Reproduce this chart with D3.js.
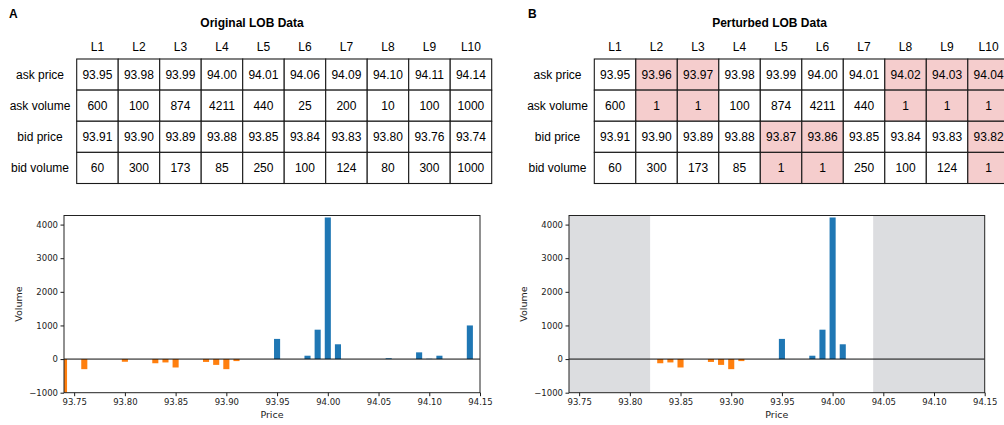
<!DOCTYPE html>
<html lang="en">
<head>
<meta charset="utf-8">
<title>LOB perturbation</title>
<script src="https://cdn.jsdelivr.net/npm/d3@7"></script>
<style>
  body { margin: 0; background: #fff; }
  .tbl text { font-family: "Liberation Sans", Arial, sans-serif; font-size: 12px; fill: #000; }
  .ax text { font-family: "DejaVu Sans", sans-serif; font-size: 8.5px; fill: #222; }
  .lab { font-family: "DejaVu Sans", sans-serif; font-size: 9.5px; fill: #222; }
</style>
</head>
<body>
<script>
// data
var levels = ["L1", "L2", "L3", "L4", "L5", "L6", "L7", "L8", "L9", "L10"];
var rowNames = ["ask price", "ask volume", "bid price", "bid volume"];

var askPriceA = [93.95, 93.98, 93.99, 94.00, 94.01, 94.06, 94.09, 94.10, 94.11, 94.14];
var askVolA   = [600, 100, 874, 4211, 440, 25, 200, 10, 100, 1000];
var bidPriceA = [93.91, 93.90, 93.89, 93.88, 93.85, 93.84, 93.83, 93.80, 93.76, 93.74];
var bidVolA   = [60, 300, 173, 85, 250, 100, 124, 80, 300, 1000];

var askPriceB = [93.95, 93.96, 93.97, 93.98, 93.99, 94.00, 94.01, 94.02, 94.03, 94.04];
var askVolB   = [600, 1, 1, 100, 874, 4211, 440, 1, 1, 1];
var bidPriceB = [93.91, 93.90, 93.89, 93.88, 93.87, 93.86, 93.85, 93.84, 93.83, 93.82];
var bidVolB   = [60, 300, 173, 85, 1, 1, 250, 100, 124, 1];

// perturbed levels (index into levels)
var askChanged = [1, 2, 7, 8, 9];
var bidChanged = [4, 5, 9];

var xTicks = [93.75, 93.80, 93.85, 93.90, 93.95, 94.00, 94.05, 94.10, 94.15];
var yTicks = [-1000, 0, 1000, 2000, 3000, 4000];
var xLim = [93.74, 94.15];
var yLim = [-1000, 4270];

var W = 1004, H = 425;
var svg = d3.select("body").append("svg").attr("width", W).attr("height", H);

function drawTable(ox, title, labelX, titleX, ap, av, bp, bv, highlight) {
  var g = svg.append("g").attr("class", "tbl");
  var cx = d3.scaleBand().domain(levels).range([ox, ox + 415]);
  var ry = d3.scaleBand().domain(rowNames).range([59, 183.5]);
  var fmtP = d3.format(".2f");
  var rows = [ap.map(fmtP), av.map(String), bp.map(fmtP), bv.map(String)];

  g.append("text").attr("x", titleX).attr("y", 27).attr("text-anchor", "middle")
    .style("font-weight", "bold").text(title);

  g.selectAll("text.hdr").data(levels).enter().append("text")
    .attr("class", "hdr")
    .attr("x", function(d) { return cx(d) + cx.bandwidth() / 2; })
    .attr("y", 51).attr("text-anchor", "middle").text(function(d) { return d; });

  g.selectAll("text.rl").data(rowNames).enter().append("text")
    .attr("class", "rl").attr("x", labelX)
    .attr("y", function(d) { return ry(d) + ry.bandwidth() / 2 + 4.3; })
    .attr("text-anchor", "middle").text(function(d) { return d; });

  var cells = [];
  rowNames.forEach(function(r, ri) {
    levels.forEach(function(l, li) {
      var hl = false;
      if (highlight) {
        hl = ri < 2 ? askChanged.indexOf(li) >= 0 : bidChanged.indexOf(li) >= 0;
      }
      cells.push({ r: r, l: l, v: rows[ri][li], hl: hl });
    });
  });

  var c = g.selectAll("g.cell").data(cells).enter().append("g").attr("class", "cell");
  c.append("rect")
    .attr("x", function(d) { return cx(d.l); })
    .attr("y", function(d) { return ry(d.r); })
    .attr("width", cx.bandwidth()).attr("height", ry.bandwidth())
    .attr("fill", function(d) { return d.hl ? "#f5cdcd" : "#fff"; })
    .attr("stroke", "#1a1a1a").attr("stroke-width", 1.1);
  c.append("text")
    .attr("x", function(d) { return cx(d.l) + cx.bandwidth() / 2; })
    .attr("y", function(d) { return ry(d.r) + ry.bandwidth() / 2 + 4.3; })
    .attr("text-anchor", "middle").text(function(d) { return d.v; });
}

function drawChart(x0, x1, ap, av, bp, bv, shade) {
  var top = 215.5, bot = 392.7;
  var x = d3.scaleLinear().domain(xLim).range([x0, x1]);
  var y = d3.scaleLinear().domain(yLim).range([bot, top]);
  var bw = x(xLim[0] + 0.006) - x(xLim[0]);
  var clipId = "clip" + Math.round(x0);

  svg.append("clipPath").attr("id", clipId).append("rect")
    .attr("x", x0).attr("y", top).attr("width", x1 - x0).attr("height", bot - top);

  var g = svg.append("g").attr("clip-path", "url(#" + clipId + ")");

  if (shade) {
    var lo = d3.min(bp), hi = d3.max(ap);
    var regions = [[xLim[0], lo], [hi, xLim[1]]];
    g.selectAll("rect.shade").data(regions).enter().append("rect")
      .attr("class", "shade")
      .attr("x", function(d) { return x(d[0]); })
      .attr("width", function(d) { return x(d[1]) - x(d[0]); })
      .attr("y", top).attr("height", bot - top)
      .attr("fill", "#dcdde0");
  }

  var asks = ap.map(function(p, i) { return { p: p, v: av[i] }; });
  var bids = bp.map(function(p, i) { return { p: p, v: -bv[i] }; });

  g.selectAll("rect.ask").data(asks).enter().append("rect")
    .attr("class", "ask")
    .attr("x", function(d) { return x(d.p) - bw / 2; })
    .attr("width", bw)
    .attr("y", function(d) { return y(d.v); })
    .attr("height", function(d) { return y(0) - y(d.v); })
    .attr("fill", "#1f77b4");

  g.selectAll("rect.bid").data(bids).enter().append("rect")
    .attr("class", "bid")
    .attr("x", function(d) { return x(d.p) - bw / 2; })
    .attr("width", bw)
    .attr("y", y(0))
    .attr("height", function(d) { return y(d.v) - y(0); })
    .attr("fill", "#ff7f0e");

  // zero line
  g.append("line").attr("x1", x0).attr("x2", x1).attr("y1", y(0)).attr("y2", y(0))
    .attr("stroke", "#000").attr("stroke-opacity", 0.55).attr("stroke-width", 1.8);

  var xa = svg.append("g").attr("class", "ax").attr("transform", "translate(0," + bot + ")")
    .call(d3.axisBottom(x).tickValues(xTicks).tickFormat(d3.format(".2f")).tickSize(3.5).tickPadding(2.5));
  var ya = svg.append("g").attr("class", "ax").attr("transform", "translate(" + x0 + ",0)")
    .call(d3.axisLeft(y).tickValues(yTicks).tickFormat(d3.format("d")).tickSize(3.5).tickPadding(2.5));
  [xa, ya].forEach(function(a) {
    a.select(".domain").remove();
    a.selectAll(".tick line").attr("stroke", "#000").attr("stroke-width", 0.9);
  });

  svg.append("rect").attr("x", x0).attr("y", top).attr("width", x1 - x0).attr("height", bot - top)
    .attr("fill", "none").attr("stroke", "#222").attr("stroke-width", 1);

  svg.append("text").attr("class", "lab").attr("x", (x0 + x1) / 2).attr("y", 418)
    .attr("text-anchor", "middle").text("Price");
  svg.append("text").attr("class", "lab")
    .attr("transform", "translate(" + (x0 - 42) + "," + ((top + bot) / 2) + ") rotate(-90)")
    .attr("text-anchor", "middle").text("Volume");
}

// panel letters
svg.append("text").attr("x", 9).attr("y", 17.5).style("font-family", "Liberation Sans, Arial, sans-serif")
  .style("font-size", "12px").style("font-weight", "bold").text("A");
svg.append("text").attr("x", 528).attr("y", 17.5).style("font-family", "Liberation Sans, Arial, sans-serif")
  .style("font-size", "12px").style("font-weight", "bold").text("B");

drawTable(76.7, "Original LOB Data", 40, 252, askPriceA, askVolA, bidPriceA, bidVolA, false);
drawTable(594.3, "Perturbed LOB Data", 557.5, 769.5, askPriceB, askVolB, bidPriceB, bidVolB, true);

drawChart(64, 480, askPriceA, askVolA, bidPriceA, bidVolA, false);
drawChart(569, 984.7, askPriceB, askVolB, bidPriceB, bidVolB, true);
</script>
</body>
</html>
